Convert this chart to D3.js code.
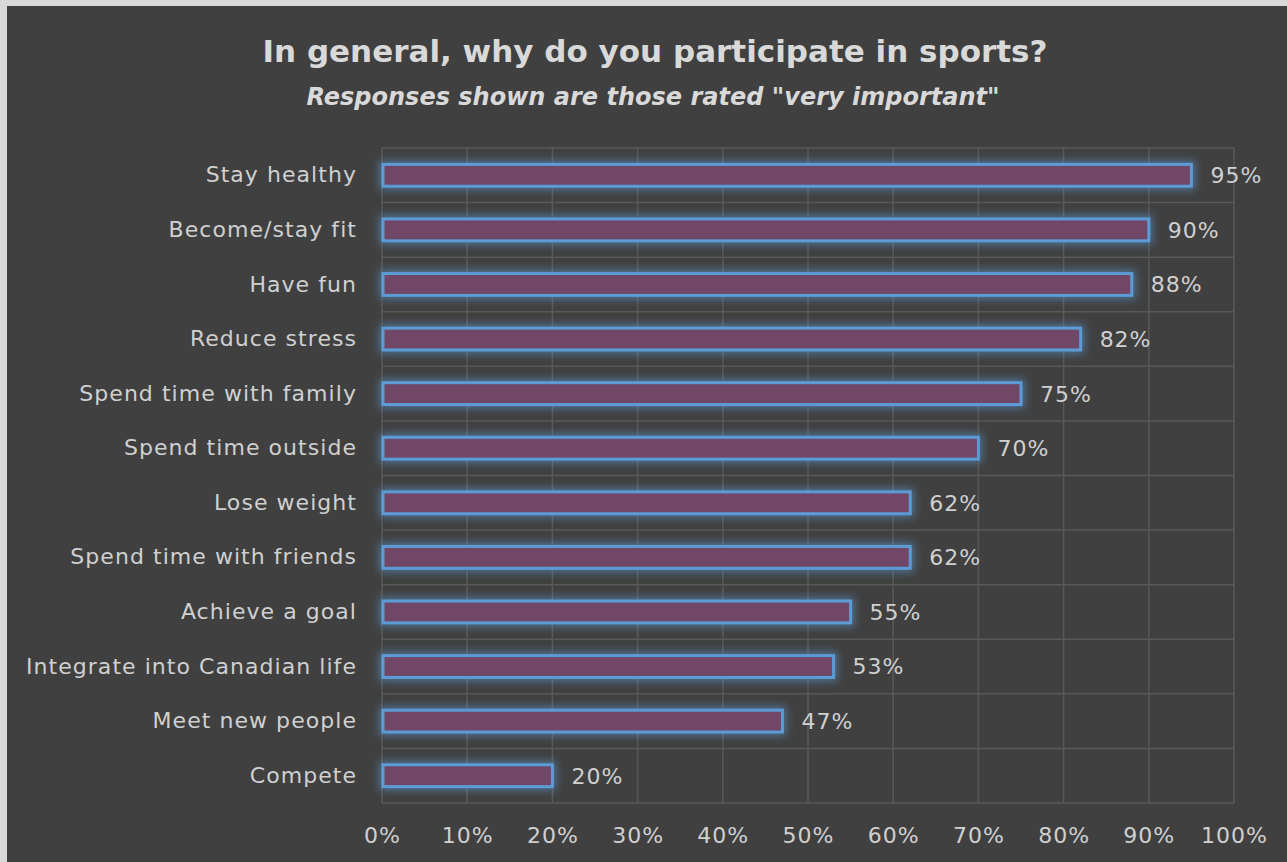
<!DOCTYPE html>
<html>
<head>
<meta charset="utf-8">
<script src="https://cdn.jsdelivr.net/npm/d3@7"></script>
<style>
  html, body { margin: 0; padding: 0; background: #d9d9d9; }
  svg { display: block; }
</style>
</head>
<body>
<svg id="chart" width="1287" height="862"></svg>
<script>
// Survey responses rated "very important"
const categories = [
  "Stay healthy",
  "Become/stay fit",
  "Have fun",
  "Reduce stress",
  "Spend time with family",
  "Spend time outside",
  "Lose weight",
  "Spend time with friends",
  "Achieve a goal",
  "Integrate into Canadian life",
  "Meet new people",
  "Compete"
];
const values = [95, 90, 88, 82, 75, 70, 62, 62, 55, 53, 47, 20];
const tickValues = [0, 10, 20, 30, 40, 50, 60, 70, 80, 90, 100];

const titleText = "In general, why do you participate in sports?";
const subtitleText = "Responses shown are those rated \"very important\"";

const W = 1287, H = 862;
const svg = d3.select("#chart");
const font = "'DejaVu Sans', sans-serif";
const textColor = "#d9d9d9";
const labelColor = "#d0d0d0";

// Light frame along top and left, then the dark panel
svg.append("rect").attr("x", 0).attr("y", 0).attr("width", W).attr("height", H).attr("fill", "#d9d9d9");
svg.append("rect").attr("x", 7).attr("y", 6).attr("width", W - 7).attr("height", H - 6).attr("fill", "#404040");

// Soft blue outer glow for the bars
const defs = svg.append("defs");
const glow = defs.append("filter").attr("id", "glow")
  .attr("x", "-10%").attr("y", "-100%").attr("width", "120%").attr("height", "300%");
glow.append("feMorphology").attr("in", "SourceAlpha").attr("operator", "dilate").attr("radius", 2).attr("result", "grown");
glow.append("feGaussianBlur").attr("in", "grown").attr("stdDeviation", 4.5).attr("result", "blur");
glow.append("feFlood").attr("flood-color", "#5b9bd5").attr("flood-opacity", 0.6);
glow.append("feComposite").attr("in2", "blur").attr("operator", "in").attr("result", "halo");
const merge = glow.append("feMerge");
merge.append("feMergeNode").attr("in", "halo");
merge.append("feMergeNode").attr("in", "SourceGraphic");

const plot = { left: 382, right: 1234, top: 148, bottom: 803 };

const x = d3.scaleLinear().domain([0, 100]).range([plot.left, plot.right]);
const y = d3.scaleBand().domain(categories).range([plot.top, plot.bottom]).paddingInner(0.6).paddingOuter(0.3);
const yGrid = d3.scaleBand().domain(categories).range([plot.top, plot.bottom]);

const gridColor = "#595959";
// Vertical gridlines
svg.append("g").selectAll("line").data(tickValues).join("line")
  .attr("x1", d => x(d)).attr("x2", d => x(d))
  .attr("y1", plot.top).attr("y2", plot.bottom)
  .attr("stroke", gridColor).attr("stroke-width", 1.5);
// Horizontal gridlines at category boundaries
const hLines = categories.map(c => yGrid(c)).concat([plot.bottom]);
svg.append("g").selectAll("line").data(hLines).join("line")
  .attr("x1", plot.left).attr("x2", plot.right)
  .attr("y1", d => d).attr("y2", d => d)
  .attr("stroke", gridColor).attr("stroke-width", 1.5);

// Bars
svg.append("g").selectAll("rect").data(values).join("rect")
  .attr("x", x(0) + 1)
  .attr("y", (d, i) => y(categories[i]))
  .attr("width", d => x(d) - x(0) - 1)
  .attr("height", y.bandwidth())
  .attr("fill", "#6f4766")
  .attr("stroke", "#5b9bd5")
  .attr("stroke-width", 3)
  .attr("filter", "url(#glow)");

// Value labels
svg.append("g").selectAll("text").data(values).join("text")
  .attr("x", d => x(d) + 19)
  .attr("y", (d, i) => y(categories[i]) + y.bandwidth() / 2)
  .attr("dy", "0.36em")
  .attr("fill", labelColor)
  .attr("font-family", font)
  .attr("font-size", 22)
  .attr("letter-spacing", 1)
  .text(d => d + "%");

// Category labels
const yAxis = d3.axisLeft(y).tickSize(0).tickPadding(0);
const yg = svg.append("g").attr("transform", `translate(${plot.left - 25},0)`).call(yAxis);
yg.select(".domain").remove();
yg.selectAll("text").attr("fill", labelColor).attr("font-family", font)
  .attr("font-size", 22).attr("letter-spacing", 1.05);

// Percentage axis
const xAxis = d3.axisBottom(x).tickValues(tickValues).tickSize(0).tickPadding(0).tickFormat(d => d + "%");
const xg = svg.append("g").attr("transform", `translate(0,${plot.bottom + 24})`).call(xAxis);
xg.select(".domain").remove();
xg.selectAll("text").attr("fill", labelColor).attr("font-family", font)
  .attr("font-size", 22).attr("letter-spacing", 1);

// Titles
svg.append("text")
  .attr("x", 655).attr("y", 62).attr("text-anchor", "middle")
  .attr("fill", textColor).attr("font-family", font)
  .attr("font-size", 31).attr("font-weight", "bold")
  .text(titleText);
svg.append("text")
  .attr("x", 653).attr("y", 105).attr("text-anchor", "middle")
  .attr("fill", textColor).attr("font-family", font)
  .attr("font-size", 24).attr("font-weight", "bold").attr("font-style", "italic")
  .text(subtitleText);
</script>
</body>
</html>
